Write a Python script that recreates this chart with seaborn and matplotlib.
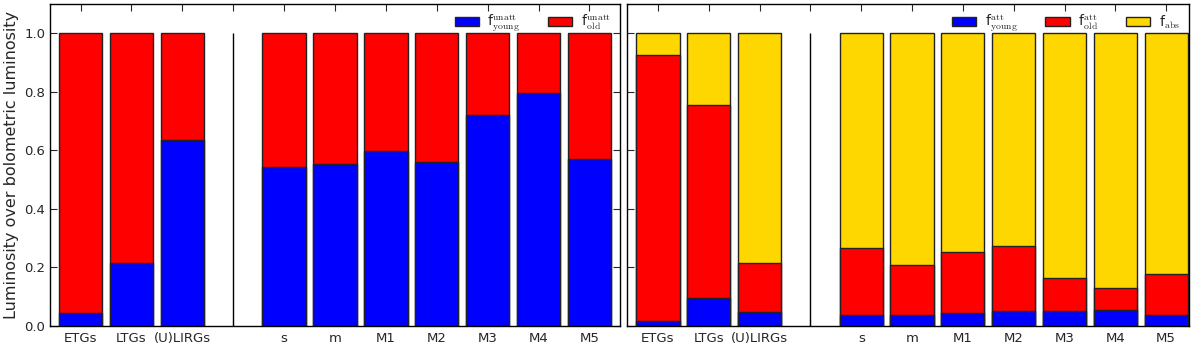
import matplotlib
matplotlib.use("Agg")
import matplotlib.pyplot as plt
from matplotlib.patches import Patch
import seaborn as sns
import pandas as pd
import numpy as np

# ---- data ----
categories = ["ETGs", "LTGs", "(U)LIRGs", "", "s", "m", "M1", "M2", "M3", "M4", "M5"]
gap_label = ""

# unattenuated fractions (left panel)
f_young_unatt = [0.043, 0.214, 0.636, 0.0, 0.544, 0.555, 0.598, 0.560, 0.722, 0.795, 0.570]
f_old_unatt = [0.957, 0.786, 0.364, 0.0, 0.456, 0.445, 0.402, 0.440, 0.278, 0.205, 0.430]

# attenuated fractions (right panel)
f_young_att = [0.017, 0.095, 0.047, 0.0, 0.039, 0.039, 0.043, 0.051, 0.051, 0.054, 0.037]
f_old_att = [0.910, 0.659, 0.167, 0.0, 0.227, 0.170, 0.209, 0.224, 0.112, 0.077, 0.141]
f_abs = [0.073, 0.246, 0.786, 0.0, 0.734, 0.791, 0.748, 0.725, 0.837, 0.869, 0.822]

BLUE, RED, GOLD = "#0000ff", "#ff0000", "#ffd700"

sns.set_style("ticks")
plt.rcParams.update({
    "font.family": ["DejaVu Sans"],
    "mathtext.fontset": "cm",
    "xtick.direction": "in",
    "ytick.direction": "in",
    "xtick.top": True,
    "ytick.right": True,
    "xtick.major.size": 5,
    "ytick.major.size": 5,
    "axes.linewidth": 1.0,
    "axes.edgecolor": "black",
})

fig = plt.figure(figsize=(12, 3.48), dpi=100)
axL = fig.add_axes([50 / 1200, 1 - 326 / 348, 570 / 1200, 322 / 348])
axR = fig.add_axes([627 / 1200, 1 - 326 / 348, 562 / 1200, 322 / 348], sharey=axL)


def stacked(ax, layers, colors, labels):
    cum = np.zeros(len(categories))
    tops = []
    for vals in layers:
        cum = cum + np.array(vals)
        tops.append(cum.copy())
    # draw from tallest cumulative to shortest so layers overlay
    for top, col in reversed(list(zip(tops, colors))):
        df = pd.DataFrame({"cat": categories, "val": top})
        df = df[df["cat"] != gap_label]
        sns.barplot(data=df, x="cat", y="val", order=categories, color=col,
                    edgecolor="#222222", linewidth=1.0, width=0.85, ax=ax,
                    saturation=1, errorbar=None)
    handles = [Patch(facecolor=c, edgecolor="#222222", linewidth=1.0, label=l)
               for c, l in zip(colors, labels)]
    gx = categories.index(gap_label)
    ax.vlines(gx, 0, 1, color="black", linewidth=1.0)
    ax.set_xlabel("")
    ax.set_ylabel("")
    ax.tick_params(axis="x", labelsize=9.5, pad=4)
    ax.tick_params(axis="y", labelsize=9.5)
    for s in ax.spines.values():
        s.set_visible(True)
    return handles


hL = stacked(axL, [f_young_unatt, f_old_unatt], [BLUE, RED],
             [r"f$^{\rm unatt}_{\rm young}$", r"f$^{\rm unatt}_{\rm old}$"])
hR = stacked(axR, [f_young_att, f_old_att, f_abs], [BLUE, RED, GOLD],
             [r"f$^{\rm att}_{\rm young}$", r"f$^{\rm att}_{\rm old}$", r"f$_{\rm abs}$"])

axL.set_ylim(0, 1.1)
axL.set_yticks([0.0, 0.2, 0.4, 0.6, 0.8, 1.0])
axL.set_yticklabels(["0.0", "0.2", "0.4", "0.6", "0.8", "1.0"])
axL.set_xlim(-0.6, 10.6)
axR.set_xlim(-0.61, 10.45)
axR.tick_params(axis="y", labelleft=False)
axL.set_ylabel("Luminosity over bolometric luminosity", fontsize=11.5)

legkw = dict(loc="upper right", frameon=False, fontsize=10,
             handlelength=1.75, handleheight=0.65, columnspacing=2.0,
             handletextpad=0.6, borderaxespad=0.25, bbox_to_anchor=(1.0, 1.0))
axL.legend(handles=hL, ncol=2, **legkw)
axR.legend(handles=hR, ncol=3, **legkw)

fig.savefig("out.png", dpi=100)
